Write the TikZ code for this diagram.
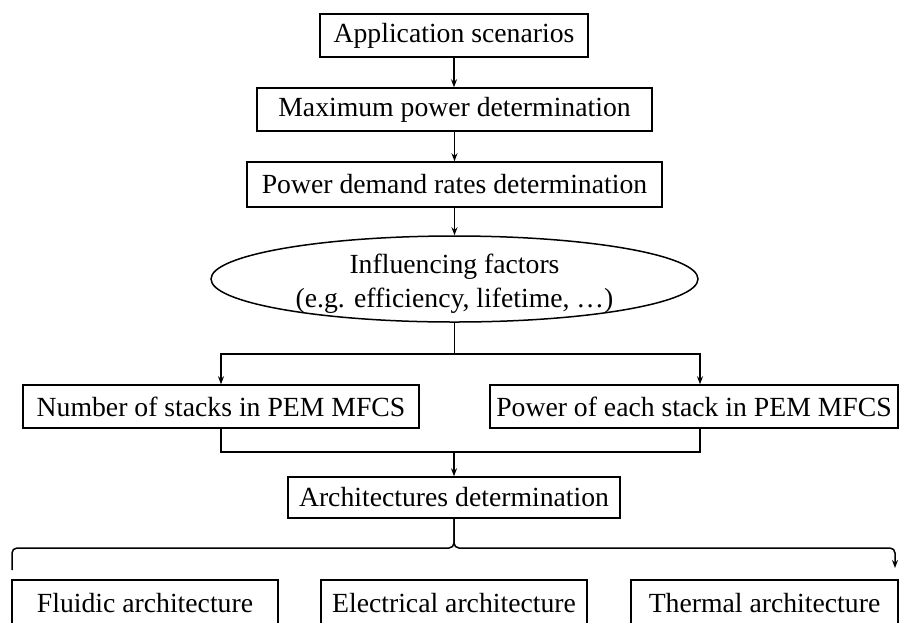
\documentclass[tikz,border=0pt]{standalone}
\usepackage{fontspec}
\setmainfont{Liberation Serif}
\usetikzlibrary{shapes.geometric,arrows.meta}
\begin{document}
\begin{tikzpicture}[x=1pt,y=-1pt,
  every node/.style={font=\fontsize{27.7}{34}\selectfont},
  box/.style={draw,line width=1.5pt,rectangle,inner sep=0pt,align=center},
  oval/.style={draw,line width=1.5pt,ellipse,inner sep=0pt},
  link/.style={line width=1.5pt},
  arr/.style={link,-{Stealth[length=8pt,width=6pt]}}]
\useasboundingbox (0,0) rectangle (901,622);
\clip (0,0) rectangle (901,622);

% main chain
\node[box,minimum width=268pt,minimum height=43pt] (app) at (454,35.5) {Application scenarios};
\node[box,minimum width=395pt,minimum height=43pt] (max) at (454.5,109.5) {Maximum power determination};
\node[box,minimum width=415pt,minimum height=45pt] (dem) at (454.5,184.5) {Power demand rates determination};
\node[oval,minimum width=487pt,minimum height=86pt] (inf) at (454.5,279) {};
\node[align=center,inner sep=0pt] (inftext) at (454.5,284) {Influencing factors\\(e.g. efficiency, lifetime, …)};

% stack sizing
\node[box,minimum width=396pt,minimum height=43pt] (num) at (221,406.5) {Number of stacks in PEM MFCS};
\node[box,minimum width=408pt,minimum height=43pt] (pow) at (694,406.5) {Power of each stack in PEM MFCS};
\node[box,minimum width=332pt,minimum height=41pt] (arch) at (454,497.5) {Architectures determination};

% sub-architectures
\node[box,minimum width=266pt,minimum height=46pt] (flu) at (145,603) {Fluidic architecture};
\node[box,minimum width=266pt,minimum height=46pt] (ele) at (454,603) {Electrical architecture};
\node[box,minimum width=267pt,minimum height=46pt] (the) at (764.5,603) {Thermal architecture};

% connectors
\draw[arr] (app.south) -- (app.south |- max.north);
\draw[arr] (max.south) -- (max.south |- dem.north);
\draw[arr] (dem.south) -- (dem.south |- inf.north);
\draw[arr] (inf.south) -- ++(0,31) -| (num.north);
\draw[arr] (inf.south) -- ++(0,31) -| ([xshift=6pt]pow.north);

\coordinate (merge) at (454,452);
\draw[link] (num.south) |- (merge) -| ([xshift=6pt]pow.south);
\draw[arr] (merge) -- (arch.north);

% brace-like split
\coordinate (lft) at (12,570);
\coordinate (rgt) at (895,568);
\draw[link,rounded corners=5pt] (arch.south) |- ([yshift=22pt]lft) -- (lft);
\draw[arr,rounded corners=5pt] (arch.south) |- ([yshift=20pt]rgt) -- (rgt);
\end{tikzpicture}
\end{document}
